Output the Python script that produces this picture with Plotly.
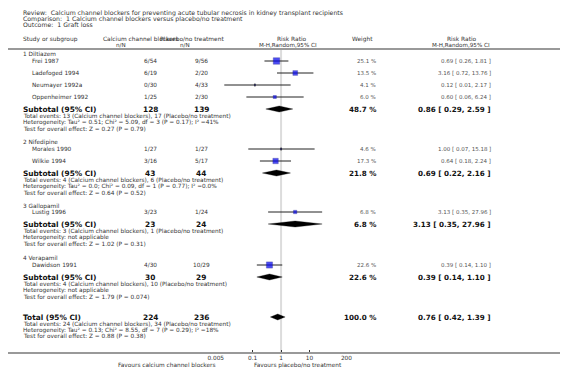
import math
import plotly.graph_objects as go

# ---------------- data ----------------
title_lines = [
    "Review:  Calcium channel blockers for preventing acute tubular necrosis in kidney transplant recipients",
    "Comparison:  1 Calcium channel blockers versus placebo/no treatment",
    "Outcome:  1 Graft loss",
]
groups = ["1 Diltiazem", "2 Nifedipine", "3 Gallopamil", "4 Verapamil"]
study_group = [0, 0, 0, 0, 1, 1, 2, 3]
studies = ["Frei 1987", "Ladefoged 1994", "Neumayer 1992a", "Oppenheimer 1992",
           "Morales 1990", "Wilkie 1994", "Lustig 1996", "Dawidson 1991"]
ccb_nN = ["6/54", "6/19", "0/30", "1/25", "1/27", "3/16", "3/23", "4/30"]
plc_nN = ["9/56", "2/20", "4/33", "2/30", "1/27", "5/17", "1/24", "10/29"]
weights = [25.1, 13.5, 4.1, 6.0, 4.6, 17.3, 6.8, 22.6]
rr = [0.69, 3.16, 0.12, 0.60, 1.00, 0.64, 3.13, 0.39]
lo = [0.26, 0.72, 0.01, 0.06, 0.07, 0.18, 0.35, 0.14]
hi = [1.81, 13.76, 2.17, 6.24, 15.18, 2.24, 27.96, 1.10]

sub_ccb_N = [128, 43, 23, 30]
sub_plc_N = [139, 44, 24, 29]
sub_weight = [48.7, 21.8, 6.8, 22.6]
sub_rr = [0.86, 0.69, 3.13, 0.39]
sub_lo = [0.29, 0.22, 0.35, 0.14]
sub_hi = [2.59, 2.16, 27.96, 1.10]
sub_events = ["Total events: 13 (Calcium channel blockers), 17 (Placebo/no treatment)",
              "Total events: 4 (Calcium channel blockers), 6 (Placebo/no treatment)",
              "Total events: 3 (Calcium channel blockers), 1 (Placebo/no treatment)",
              "Total events: 4 (Calcium channel blockers), 10 (Placebo/no treatment)"]
sub_het = ["Heterogeneity: Tau² = 0.51; Chi² = 5.09, df = 3 (P = 0.17); I² =41%",
           "Heterogeneity: Tau² = 0.0; Chi² = 0.09, df = 1 (P = 0.77); I² =0.0%",
           "Heterogeneity: not applicable",
           "Heterogeneity: not applicable"]
sub_test = ["Test for overall effect: Z = 0.27 (P = 0.79)",
            "Test for overall effect: Z = 0.64 (P = 0.52)",
            "Test for overall effect: Z = 1.02 (P = 0.31)",
            "Test for overall effect: Z = 1.79 (P = 0.074)"]

tot_ccb_N, tot_plc_N = 224, 236
tot_weight = 100.0
tot_rr, tot_lo, tot_hi = 0.76, 0.42, 1.39
tot_lines = ["Total events: 24 (Calcium channel blockers), 34 (Placebo/no treatment)",
             "Heterogeneity: Tau² = 0.13; Chi² = 8.55, df = 7 (P = 0.29); I² =18%",
             "Test for overall effect: Z = 0.88 (P = 0.38)"]

tick_vals = [0.005, 0.1, 1, 10, 200]
tick_text = ["0.005", "0.1", "1", "10", "200"]
fav_left = "Favours calcium channel blockers"
fav_right = "Favours placebo/no treatment"

# ---------------- layout (pixel rows) ----------------
W, H = 566, 376
FONT = "DejaVu Sans"
C_TXT = "#333333"
C_LIGHT = "#555555"
C_BOLD = "#111111"

group_head_y = [54, 142, 206, 258]
study_y = [61, 73, 85, 97, 149, 161, 212, 265]
sub_y = [109, 173, 224, 277]
tot_y = 317
axis_y = 353

ann = []


def text(s, x, y, anchor="left", size=5.8, bold=False, color=C_TXT):
    ann.append(dict(text=("<b>%s</b>" % s) if bold else s, x=x / W, y=y,
                    xref="paper", yref="y", xanchor=anchor, yanchor="middle",
                    showarrow=False, font=dict(family=FONT, size=size, color=color)))


for i, t in enumerate(title_lines):
    text(t, 13, 12.5 + i * 6.0, size=6.2)

# headers
text("Study or subgroup", 13, 39, size=5.9)
text("Calcium channel blockers", 95, 39, size=5.9)
text("Placebo/no treatment", 224, 39, anchor="right", size=5.9)
text("n/N", 116, 45, anchor="center", size=5.6)
text("n/N", 182, 45, anchor="center", size=5.6)
text("Risk Ratio", 291, 39, anchor="center", size=5.9)
text("M-H,Random,95% CI", 287, 45, anchor="center", size=5.6)
text("Weight", 363, 39, anchor="center", size=5.9)
text("Risk Ratio", 466, 39, anchor="center", size=5.9)
text("M-H,Random,95% CI", 465, 45, anchor="center", size=5.6)


def fmt_ci(a, b, c):
    return "%.2f [ %.2f, %.2f ]" % (a, b, c)


for g, name in enumerate(groups):
    text(name, 13, group_head_y[g], size=5.8)
for i, s in enumerate(studies):
    y = study_y[i]
    text(s, 23, y, size=5.8)
    text(ccb_nN[i], 146, y, anchor="center", size=5.8)
    text(plc_nN[i], 198, y, anchor="center", size=5.8)
    text("%.1f %%" % weights[i], 379, y, anchor="right", size=5.5, color=C_LIGHT)
    text(fmt_ci(rr[i], lo[i], hi[i]), 497, y, anchor="right", size=5.5, color=C_LIGHT)

for g in range(len(groups)):
    y = sub_y[g]
    text("Subtotal (95% CI)", 13, y, size=7.4, bold=True, color=C_BOLD)
    text(str(sub_ccb_N[g]), 146, y, anchor="center", size=7.4, bold=True, color=C_BOLD)
    text(str(sub_plc_N[g]), 198, y, anchor="center", size=7.4, bold=True, color=C_BOLD)
    text("%.1f %%" % sub_weight[g], 379, y, anchor="right", size=7.2, bold=True, color=C_BOLD)
    text(fmt_ci(sub_rr[g], sub_lo[g], sub_hi[g]), 497, y, anchor="right", size=7.2, bold=True, color=C_BOLD)
    text(sub_events[g], 13, y + 6.8, size=5.8)
    text(sub_het[g], 13, y + 13.2, size=5.8)
    text(sub_test[g], 13, y + 19.6, size=5.8)

text("Total (95% CI)", 13, tot_y, size=7.4, bold=True, color=C_BOLD)
text(str(tot_ccb_N), 146, tot_y, anchor="center", size=7.4, bold=True, color=C_BOLD)
text(str(tot_plc_N), 198, tot_y, anchor="center", size=7.4, bold=True, color=C_BOLD)
text("%.1f %%" % tot_weight, 379, tot_y, anchor="right", size=7.2, bold=True, color=C_BOLD)
text(fmt_ci(tot_rr, tot_lo, tot_hi), 497, tot_y, anchor="right", size=7.2, bold=True, color=C_BOLD)
for i, t in enumerate(tot_lines):
    text(t, 13, tot_y + 6.6 + i * 6.4, size=5.8)

text(fav_left, 215, 365, anchor="right", size=5.8)
text(fav_right, 250, 365, anchor="left", size=5.8)

# ---------------- traces ----------------
fig = go.Figure()

# CI whiskers
lx, ly = [], []
for i in range(len(studies)):
    lx += [lo[i], hi[i], None]
    ly += [study_y[i], study_y[i], None]
fig.add_trace(go.Scatter(x=lx, y=ly, mode="lines", line=dict(color="#222", width=1),
                         hoverinfo="skip", showlegend=False))

# squares sized by weight
sizes = [1.3 * math.sqrt(w) if w > 5 else 1.2 for w in weights]
fig.add_trace(go.Scatter(x=rr, y=study_y, mode="markers",
                         marker=dict(symbol="square", size=sizes, color="#0000ee",
                                     line=dict(color="#00007a", width=0.4)),
                         hoverinfo="skip", showlegend=False))
# tiny vertical ticks for very small weights
tx, ty = [], []
for i, w in enumerate(weights):
    if w <= 5:
        tx += [rr[i], rr[i], None]
        ty += [study_y[i] - 1.5, study_y[i] + 1.5, None]
fig.add_trace(go.Scatter(x=tx, y=ty, mode="lines", line=dict(color="#111", width=1),
                         hoverinfo="skip", showlegend=False))

# diamonds
dx, dy = [], []
for g in range(len(groups)):
    y = sub_y[g]
    dx += [sub_lo[g], sub_rr[g], sub_hi[g], sub_rr[g], sub_lo[g], None]
    dy += [y, y - 3.0, y, y + 3.0, y, None]
dx += [tot_lo, tot_rr, tot_hi, tot_rr, tot_lo]
dy += [tot_y, tot_y - 3.0, tot_y, tot_y + 3.0, tot_y]
fig.add_trace(go.Scatter(x=dx, y=dy, mode="lines", fill="toself", fillcolor="#000",
                         line=dict(color="#000", width=0.3), hoverinfo="skip", showlegend=False))

shapes = [
    dict(type="line", xref="x", yref="y", x0=1, x1=1, y0=49, y1=axis_y,
         line=dict(color="#dcdcdc", width=2), layer="below"),
    dict(type="line", xref="paper", yref="y", x0=0, x1=1, y0=49, y1=49,
         line=dict(color="#999999", width=2)),
    dict(type="line", xref="paper", yref="y", x0=0, x1=1, y0=axis_y, y1=axis_y,
         line=dict(color="#999999", width=2)),
]

fig.update_layout(
    width=W, height=H, margin=dict(l=0, r=0, t=0, b=0),
    paper_bgcolor="white", plot_bgcolor="white",
    xaxis=dict(type="log", range=[math.log10(0.005), math.log10(200)],
               domain=[213 / W, 347 / W], anchor="free", position=(H - axis_y) / H,
               tickvals=tick_vals, ticktext=tick_text, ticks="inside", ticklen=3,
               tickcolor="#333", tickwidth=1, showline=False, showgrid=False,
               zeroline=False, tickfont=dict(family=FONT, size=5.8, color=C_TXT)),
    yaxis=dict(range=[H, 0], domain=[0, 1], visible=False, showgrid=False),
    shapes=shapes, annotations=ann, showlegend=False,
)

fig.write_html("out.html", config={"displayModeBar": False},
               post_script="document.body.style.margin='0';document.body.style.overflow='hidden';")
